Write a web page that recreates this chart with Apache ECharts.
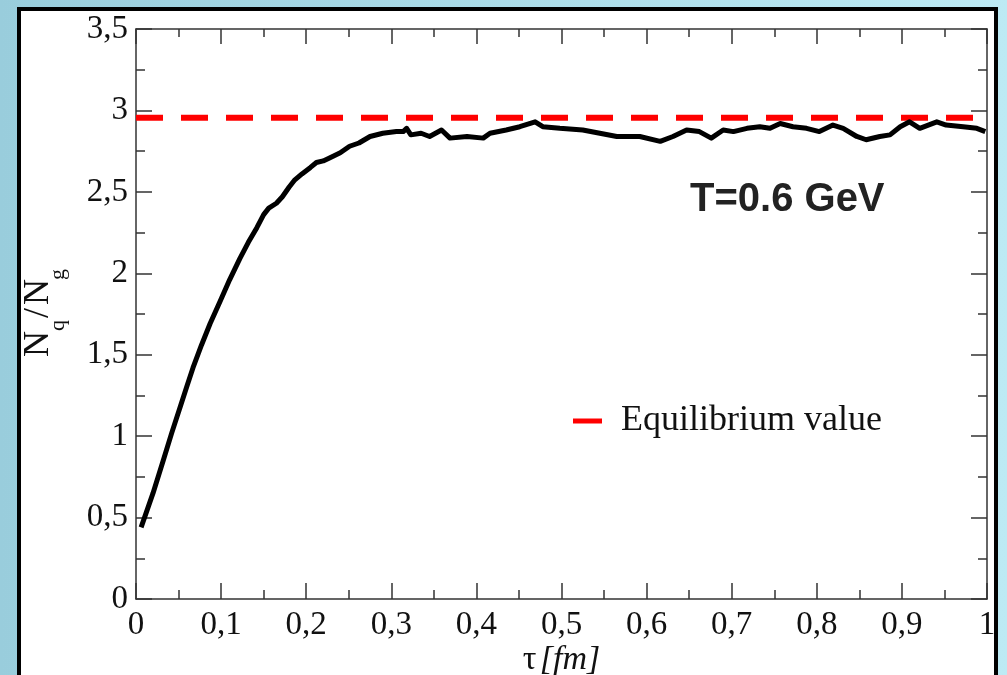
<!DOCTYPE html>
<html>
<head>
<meta charset="utf-8">
<script src="https://cdn.jsdelivr.net/npm/echarts@6/dist/echarts.min.js"></script>
<style>
  html, body { margin: 0; padding: 0; }
  #chart { width: 1007px; height: 675px; }
</style>
</head>
<body>
<div id="chart"></div>
<script>
// tau [fm] and Nq/Ng
var tau = [0.006, 0.02, 0.032, 0.042, 0.052, 0.06, 0.067, 0.077, 0.087, 0.099,
  0.11, 0.122, 0.132, 0.142, 0.15, 0.156, 0.165, 0.172, 0.18, 0.186,
  0.195, 0.205, 0.212, 0.22, 0.228, 0.24, 0.251, 0.262, 0.275, 0.29,
  0.306, 0.314, 0.318, 0.323, 0.335, 0.345, 0.359, 0.369, 0.389, 0.408,
  0.416, 0.435, 0.451, 0.469, 0.478, 0.498, 0.525, 0.545, 0.565, 0.592,
  0.616, 0.631, 0.647, 0.662, 0.676, 0.69, 0.702, 0.718, 0.733, 0.745,
  0.757, 0.772, 0.788, 0.803, 0.819, 0.831, 0.847, 0.858, 0.874, 0.886,
  0.898, 0.909, 0.921, 0.941, 0.952, 0.972, 0.988, 0.998];
var ratio = [0.44, 0.65, 0.85, 1.02, 1.18, 1.31, 1.42, 1.56, 1.69, 1.83,
  1.96, 2.09, 2.19, 2.28, 2.36, 2.4, 2.43, 2.47, 2.53, 2.57,
  2.61, 2.65, 2.68, 2.69, 2.71, 2.74, 2.78, 2.8, 2.84, 2.86,
  2.87, 2.87, 2.89, 2.85, 2.86, 2.84, 2.88, 2.83, 2.84, 2.83,
  2.86, 2.88, 2.9, 2.93, 2.9, 2.89, 2.88, 2.86, 2.84, 2.84,
  2.81, 2.84, 2.88, 2.87, 2.83, 2.88, 2.87, 2.89, 2.9, 2.89,
  2.92, 2.9, 2.89, 2.87, 2.91, 2.89, 2.84, 2.82, 2.84, 2.85,
  2.9, 2.93, 2.89, 2.93, 2.91, 2.9, 2.89, 2.87];
var equilibrium = 2.955;
var equilibriumName = 'Equilibrium value';

var serif = '"Liberation Serif", "DejaVu Serif", serif';
var comma = function (v) { return String(v).replace('.', ','); };

var myChart = echarts.init(document.getElementById('chart'));

var curve = tau.map(function (t, i) { return [t, ratio[i]]; });

var axisLine = { show: true, onZero: false, lineStyle: { color: '#333', width: 1.5 } };
var tickStyle = { color: '#333', width: 1.5 };

var option = {
  animation: false,
  backgroundColor: {
    type: 'linear', x: 0, y: 0, x2: 1, y2: 0,
    colorStops: [{ offset: 0, color: '#99cddc' }, { offset: 1, color: '#bdeaf4' }]
  },
  grid: { left: 136, right: 20, top: 29, bottom: 76, outerBoundsMode: 'none' },
  legend: {
    data: [equilibriumName],
    left: 568,
    top: 398,
    icon: 'rect',
    itemWidth: 29,
    itemHeight: 5,
    textStyle: { fontFamily: serif, fontSize: 36, color: '#111', padding: [0, 0, 0, 14] }
  },
  graphic: [
    {
      type: 'rect', z: -1, silent: true,
      shape: { x: 19, y: 9, width: 977, height: 700 },
      style: { fill: '#fff', stroke: '#000', lineWidth: 4 }
    },
    {
      type: 'text', x: 690, y: 200, z: 10,
      style: { text: 'T=0.6 GeV', font: 'bold 40px "Liberation Sans", Arial, sans-serif', fill: '#222', verticalAlign: 'middle' }
    },
    {
      type: 'group', x: 50, y: 357, rotation: Math.PI / 2,
      children: [
        { type: 'text', x: 0, y: -11, style: { text: 'N', font: '36px ' + serif, fill: '#111', verticalAlign: 'middle' } },
        { type: 'text', x: 26, y: 8, style: { text: 'q', font: '22px ' + serif, fill: '#111', verticalAlign: 'middle' } },
        { type: 'text', x: 39, y: -11, style: { text: '/', font: '36px ' + serif, fill: '#111', verticalAlign: 'middle' } },
        { type: 'text', x: 52, y: -11, style: { text: 'N', font: '36px ' + serif, fill: '#111', verticalAlign: 'middle' } },
        { type: 'text', x: 77, y: 8, style: { text: 'g', font: '22px ' + serif, fill: '#111', verticalAlign: 'middle' } }
      ]
    }
  ],
  xAxis: [
    {
      type: 'value', min: 0, max: 1, interval: 0.1, position: 'bottom',
      axisLine: axisLine,
      axisTick: { inside: true, length: 16, lineStyle: tickStyle },
      minorTick: { show: true, splitNumber: 2, length: 9, lineStyle: tickStyle },
      splitLine: { show: false },
      axisLabel: { fontFamily: serif, fontSize: 33, color: '#111', margin: 10, formatter: comma },
      name: '{a|τ} {b|[fm]}',
      nameLocation: 'middle',
      nameGap: 44,
      nameMoveOverlap: false,
      nameTextStyle: {
        rich: {
          a: { fontFamily: serif, fontSize: 34, color: '#111' },
          b: { fontFamily: serif, fontSize: 34, fontStyle: 'italic', color: '#111' }
        }
      }
    },
    {
      type: 'value', min: 0, max: 1, interval: 0.1, position: 'top',
      axisLine: axisLine,
      axisTick: { inside: true, length: 15, lineStyle: tickStyle },
      minorTick: { show: true, splitNumber: 2, length: 8, lineStyle: tickStyle },
      splitLine: { show: false },
      axisLabel: { show: false }
    }
  ],
  yAxis: [
    {
      type: 'value', min: 0, max: 3.5, interval: 0.5, position: 'left',
      axisLine: axisLine,
      axisTick: { inside: true, length: 16, lineStyle: tickStyle },
      minorTick: { show: true, splitNumber: 2, length: 9, lineStyle: tickStyle },
      splitLine: { show: false },
      axisLabel: { fontFamily: serif, fontSize: 33, color: '#111', margin: 8, formatter: comma }
    },
    {
      type: 'value', min: 0, max: 3.5, interval: 0.5, position: 'right',
      axisLine: axisLine,
      axisTick: { inside: true, length: 16, lineStyle: tickStyle },
      minorTick: { show: true, splitNumber: 2, length: 9, lineStyle: tickStyle },
      splitLine: { show: false },
      axisLabel: { show: false }
    }
  ],
  series: [
    {
      name: equilibriumName,
      type: 'line',
      data: [[0, equilibrium], [1, equilibrium]],
      showSymbol: false,
      color: '#ff0000',
      lineStyle: { color: '#ff0000', width: 6, type: [27, 18] }
    },
    {
      name: 'Nq/Ng',
      type: 'line',
      data: curve,
      showSymbol: false,
      lineStyle: { color: '#000', width: 5, join: 'round' }
    }
  ]
};
myChart.setOption(option);
</script>
</body>
</html>
